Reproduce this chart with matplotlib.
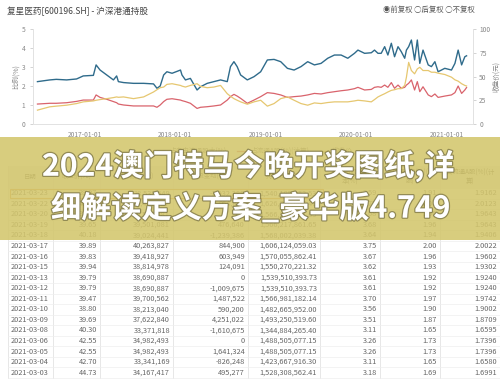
import matplotlib
matplotlib.use('Agg')
import matplotlib.pyplot as plt
import matplotlib.patheffects as pe
from matplotlib.patches import Rectangle
import numpy as np

plt.rcParams['font.family'] = ['Noto Sans CJK SC', 'DejaVu Sans']

# chart series
dates = ['2016-06-23', '2016-08-12', '2016-09-07', '2016-10-19', '2016-11-28', '2016-12-25',
         '2017-02-04', '2017-02-15', '2017-03-03', '2017-03-30', '2017-04-26', '2017-05-09',
         '2017-05-16', '2017-06-06', '2017-07-16', '2017-08-26', '2017-10-05', '2017-10-19',
         '2017-11-01', '2017-11-15', '2017-11-28', '2017-12-19', '2018-01-22', '2018-01-28',
         '2018-02-11', '2018-03-03', '2018-03-30', '2018-04-13', '2018-05-10', '2018-06-06',
         '2018-07-03', '2018-07-30', '2018-08-12', '2018-08-26', '2018-09-08', '2018-09-22',
         '2018-10-19', '2018-11-15', '2018-12-12', '2019-01-08', '2019-02-04', '2019-03-03',
         '2019-03-30', '2019-04-26', '2019-05-24', '2019-06-20', '2019-07-17', '2019-08-13',
         '2019-09-09', '2019-10-06', '2019-11-02', '2019-11-29', '2019-12-26', '2020-01-09',
         '2020-02-05', '2020-03-03', '2020-03-16', '2020-03-30', '2020-04-12', '2020-04-26',
         '2020-05-09', '2020-05-23', '2020-06-05', '2020-06-19', '2020-07-02', '2020-07-16',
         '2020-07-23', '2020-08-01', '2020-08-12', '2020-08-25', '2020-09-05', '2020-09-15',
         '2020-09-28', '2020-10-19', '2020-11-01', '2020-11-15', '2020-11-28', '2020-12-25',
         '2021-01-21', '2021-02-04', '2021-02-17', '2021-03-03', '2021-03-16', '2021-03-23']

free_float_pct = [2.23, 2.32, 2.35, 2.32, 2.37, 2.53, 2.56, 3.11, 2.84, 2.58,
                  2.32, 2.53, 2.23, 2.18, 2.14, 2.14, 2.11, 1.88, 2.00, 2.58,
                  2.75, 2.67, 2.84, 2.58, 2.32, 2.40, 1.79, 1.96, 2.14, 2.23,
                  2.32, 2.23, 3.02, 3.28, 3.02, 2.58, 2.32, 2.49, 2.75, 3.37,
                  3.40, 3.28, 2.93, 2.84, 3.02, 3.28, 3.11, 3.19, 3.46, 3.63,
                  3.63, 3.46, 3.72, 3.89, 3.72, 3.75, 3.89, 3.72, 3.72, 4.07,
                  3.63, 4.25, 3.54, 4.07, 3.81, 3.46, 3.89, 4.07, 4.42, 3.37,
                  4.42, 3.19, 3.89, 3.11, 3.02, 3.28, 2.75, 2.93, 2.84, 3.19,
                  3.89, 3.11, 3.54, 3.59]

a_share_pct = [1.05, 1.09, 1.09, 1.12, 1.19, 1.26, 1.26, 1.53, 1.40, 1.30,
               1.18, 1.12, 1.05, 1.00, 0.95, 0.95, 0.95, 0.88, 1.00, 1.18,
               1.30, 1.33, 1.26, 1.23, 1.18, 1.09, 0.82, 0.88, 0.91, 0.95,
               1.00, 1.26, 1.44, 1.56, 1.47, 1.35, 1.09, 1.26, 1.44, 1.65,
               1.61, 1.53, 1.40, 1.44, 1.47, 1.53, 1.61, 1.58, 1.65, 1.70,
               1.75, 1.79, 1.86, 1.93, 1.79, 1.82, 1.93, 1.96, 1.93, 2.05,
               1.93, 2.18, 1.88, 2.05, 1.88, 1.93, 2.05, 2.14, 2.32, 1.79,
               2.23, 1.70, 1.96, 1.53, 1.44, 1.58, 1.40, 1.47, 1.53, 1.65,
               2.00, 1.61, 1.79, 1.92]

close_price = [14.6, 18.1, 18.8, 19.8, 21.5, 23.3, 24.3, 25.0, 25.7, 26.7,
               27.8, 28.5, 28.1, 28.5, 26.7, 28.5, 33.7, 36.1, 38.2, 38.9,
               41.7, 42.4, 40.6, 39.9, 38.9, 40.6, 42.4, 39.6, 38.2, 38.9,
               40.6, 31.9, 29.2, 26.7, 25.0, 23.3, 20.8, 23.3, 25.0, 18.8,
               21.5, 26.7, 28.5, 25.0, 21.5, 19.8, 22.2, 21.5, 22.6, 23.3,
               23.3, 23.3, 24.3, 25.0, 24.3, 23.3, 25.7, 28.5, 30.2, 31.9,
               33.7, 35.4, 36.1, 37.2, 37.2, 40.6, 49.3, 64.9, 56.3, 52.8,
               58.0, 59.7, 56.3, 56.3, 54.5, 54.5, 53.5, 52.1, 49.3, 46.5,
               45.1, 42.4, 40.6, 40.0]

x_ticks = ['2017-01-01', '2018-01-01', '2019-01-01', '2020-01-01', '2021-01-01']

# table below the chart
headers = ['日期', '收盘价(元)', '持股数量(股)', '持股变动(股)', '持股市值(元)',
           '占自由流通股\n本(%)', '占流通A股(%)(亿\n股)', '占流通A股(%)(计\n算)']
t_date = ['2021-03-23', '2021-03-22', '2021-03-20', '2021-03-19', '2021-03-18', '2021-03-17',
          '2021-03-16', '2021-03-15', '2021-03-13', '2021-03-12', '2021-03-11', '2021-03-10',
          '2021-03-09', '2021-03-08', '2021-03-06', '2021-03-05', '2021-03-04', '2021-03-03']
t_close = ['39.97', '40.20', '39.65', '39.65', '40.18', '39.89', '39.83', '39.94', '39.79',
           '39.79', '39.47', '38.80', '39.69', '40.30', '42.55', '42.55', '42.70', '44.73']
t_shares = ['38,533,549', '40,465,937', '39,501,081', '39,501,081', '39,024,441', '40,263,827',
            '39,418,927', '38,814,978', '38,690,887', '38,690,887', '39,700,562', '38,213,040',
            '37,622,840', '33,371,818', '34,982,493', '34,982,493', '33,341,169', '34,167,417']
t_change = ['-1,932,388', '964,856', '0', '476,640', '-1,239,386', '844,900', '603,949',
            '124,091', '0', '-1,009,675', '1,487,522', '590,200', '4,251,022', '-1,610,675',
            '0', '1,641,324', '-826,248', '495,277']
t_value = ['1,540,185,953.53', '1,626,730,667.40', '1,566,217,861.65', '1,566,217,861.65',
           '1,568,002,039.38', '1,606,124,059.03', '1,570,055,862.41', '1,550,270,221.32',
           '1,539,510,393.73', '1,539,510,393.73', '1,566,981,182.14', '1,482,665,952.00',
           '1,493,250,519.60', '1,344,884,265.40', '1,488,505,077.15', '1,488,505,077.15',
           '1,423,667,916.30', '1,528,308,562.41']
t_free = ['3.59', '3.77', '3.68', '3.68', '3.64', '3.75', '3.67', '3.62', '3.61', '3.61',
          '3.70', '3.56', '3.51', '3.11', '3.26', '3.26', '3.11', '3.18']
t_ashare = ['1.91', '2.01', '1.96', '1.96', '1.94', '2.00', '1.96', '1.93', '1.92', '1.92',
            '1.97', '1.90', '1.87', '1.65', '1.73', '1.73', '1.65', '1.69']
t_calc = ['1.9162', '2.0123', '1.9643', '1.9643', '1.9406', '2.0022', '1.9602', '1.9302',
          '1.9240', '1.9240', '1.9742', '1.9002', '1.8709', '1.6595', '1.7396', '1.7396',
          '1.6580', '1.6991']

banner_1 = '2024澳门特马今晚开奖图纸,详'
banner_2 = '细解读定义方案_豪华版4.749'

BLUE, RED, YELLOW = '#2f6b8b', '#d9636c', '#e6c770'
W, H = 500, 379

fig = plt.figure(figsize=(5, 3.79), dpi=100)
fig.patch.set_facecolor('white')

# background layer in pixel units (title, table, overlay, banner)
bg = fig.add_axes([0, 0, 1, 1])
bg.set_xlim(0, W)
bg.set_ylim(H, 0)
bg.axis('off')

bg.text(7, 11, '复星医药[600196.SH] - 沪深港通持股', fontsize=6.2, color='#444', va='center')
bg.text(475, 10, '◉前复权 ○后复权 ○不复权', fontsize=5.3, color='#555', va='center', ha='right')

col_edges = [8, 53, 100, 173, 248, 320, 380, 440, 500]
head_top, row0, row_h = 166, 188, 10.55
bg.add_patch(Rectangle((col_edges[0], head_top), W - col_edges[0], row0 - head_top,
                       facecolor='#f3f3f3', edgecolor='none', zorder=1))
for xe in col_edges[:-1]:
    bg.plot([xe, xe], [head_top, H], color='#e3e3e3', lw=0.6, zorder=1)
for i in range(len(t_date) + 1):
    yl = row0 + i * row_h
    bg.plot([col_edges[0], W], [yl, yl], color='#eeeeee', lw=0.5, zorder=1)

for j, h in enumerate(headers):
    cx = (col_edges[j] + col_edges[j + 1]) / 2
    bg.text(cx, (head_top + row0) / 2, h, fontsize=4.6, color='#555', ha='center', va='center',
            linespacing=1.3, zorder=2)

columns = [t_close, t_shares, t_change, t_value, t_free, t_ashare, t_calc]
for i, d in enumerate(t_date):
    yc = row0 + i * row_h + row_h / 2
    bg.text(30, yc, d, fontsize=5.3, color='#666', ha='center', va='center', zorder=2)
    for j, col in enumerate(columns):
        bg.text(col_edges[j + 2] - 3, yc, col[i], fontsize=5.3, color='#666',
                ha='right', va='center', zorder=2)
bg.add_patch(Rectangle((10, row0 + 0.5), 313, row_h - 1, facecolor='none',
                       edgecolor='#e39a48', lw=0.8, zorder=3))

# translucent banner over the table
bg.add_patch(Rectangle((0, 137), W, 103, facecolor='#d3c66c', alpha=0.88,
                       edgecolor='none', zorder=10))
shadow = [pe.withStroke(linewidth=1.8, foreground=(0.35, 0.33, 0.2, 0.55))]
bg.text(42, 166, banner_1, fontsize=21.7, fontweight='bold', color='white', va='center',
        ha='left', zorder=20, path_effects=shadow)
bg.text(51, 208, banner_2, fontsize=21.7, fontweight='bold', color='white', va='center',
        ha='left', zorder=20, path_effects=shadow)

# the chart itself
d = np.array(dates, dtype='datetime64[D]')
ax = fig.add_axes([33 / W, 1 - 124 / H, 440 / W, 95 / H])
ax.patch.set_alpha(0)
l1, = ax.plot(d, free_float_pct, color=BLUE, lw=1.0, label='占自由流通股本(%)')
l2, = ax.plot(d, a_share_pct, color=RED, lw=0.9, label='占流通A股(%)(计算)')
ax.set_ylim(0, 5)
ax.set_yticks(range(6))
ax.set_xlim(np.datetime64('2016-06-05'), np.datetime64('2021-04-18'))
ax.set_xticks(np.array(x_ticks, dtype='datetime64[D]'))
ax.set_xticklabels(x_ticks)

ax2 = ax.twinx()
l3, = ax2.plot(d, close_price, color=YELLOW, lw=0.9, label='收盘价')
ax2.set_ylim(0, 100)
ax2.set_yticks([0, 25, 50, 75, 100])

for a in (ax, ax2):
    for s in a.spines.values():
        s.set_color('#e2e2e2')
        s.set_linewidth(0.6)
    a.spines['top'].set_visible(False)
    a.tick_params(labelsize=4.8, labelcolor='#888', color='#cccccc', length=2.5, width=0.6)
ax.tick_params(axis='y', pad=3)
ax.tick_params(axis='x', pad=5, length=0)
ax2.tick_params(axis='y', pad=2)
ax.set_ylabel('比例(%)', fontsize=5, color='#888')
ax.yaxis.set_label_coords(-13 / 440, 0.5)
ax2.set_ylabel('收盘价(元)', fontsize=4.8, color='#888', rotation=90)
ax2.yaxis.set_label_coords(1 + 19 / 440, 0.5)

bg.legend(handles=[l1, l2, l3], loc='center', bbox_to_anchor=(255 / W, 1 - 151 / H),
          ncol=3, frameon=False, fontsize=4.8, handlelength=1.2, columnspacing=1.5,
          labelcolor='#777')

fig.savefig('out.png', dpi=100, facecolor='white')
